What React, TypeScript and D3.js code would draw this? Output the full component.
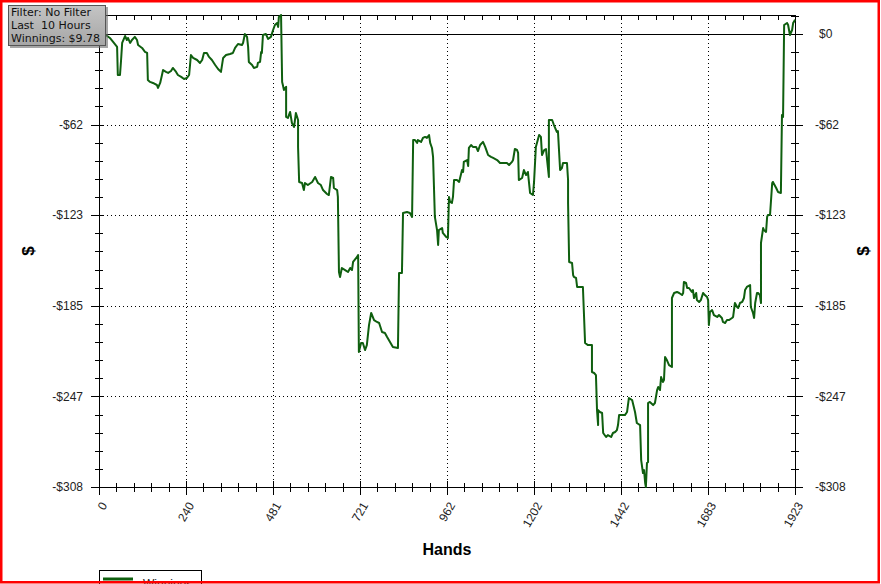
import React, { useEffect, useRef } from 'react';
import * as d3 from 'd3';

// cumulative winnings: [hand, dollars]
const sessionStart: [number, number][] = [
    [0, 0], [19, -0.7], [30, -2.7], [39, -5.4], [50, -8.8], [52, -27.9], [58, -27.9], [61, -17.7], [64, -6.1],
    [72, -1.4], [77, -4.1], [80, -2.7], [86, -6.1], [91, -4.1], [99, -2.0], [105, -4.1], [108, -7.5], [119, -9.5],
    [127, -12.2], [133, -12.9], [135, -31.3], [141, -32.6], [149, -33.3], [160, -34.7], [163, -36.7], [169, -33.3],
    [174, -27.9], [177, -24.5], [185, -25.8], [191, -26.5], [199, -25.2], [204, -23.1], [213, -25.8], [218, -27.9],
    [227, -29.2], [235, -30.6], [243, -29.9], [249, -27.9], [254, -14.3], [260, -16.3], [271, -17.7], [279, -19.7],
    [285, -17.7], [290, -12.9], [298, -12.9], [304, -15.6], [312, -17.7], [321, -21.1], [329, -23.8], [337, -25.8],
    [343, -16.3], [351, -14.3], [362, -13.6], [370, -12.9], [376, -9.5], [384, -6.8], [395, -7.5], [398, -6.1],
    [403, 0], [409, -2.0], [412, -8.8], [414, -19.0], [423, -21.1], [428, -23.1], [437, -22.4], [439, -19.7],
    [445, -19.0], [448, -12.2], [450, -12.9], [453, -0.7], [461, 0], [467, -3.4], [475, -2.0], [481, 2.7],
    [486, 6.1], [492, 7.5], [495, 4.8], [497, 11.6], [503, 12.9],
];

const firstSlide: [number, number][] = [
    [506, -32.6], [508, -34.7], [511, -38.1], [517, -36.0], [517, -56.4], [522, -57.1], [528, -53.0], [533, -60.5],
    [539, -63.2], [544, -53.7], [550, -58.5], [550, -76.8], [553, -100.6], [561, -101.3], [566, -106.1], [569, -101.3],
    [577, -102.7], [589, -100.6], [597, -97.2], [605, -101.3], [613, -102.7], [619, -106.1], [630, -108.8],
    [635, -109.5], [641, -97.2], [647, -97.9], [649, -104.7], [658, -106.1], [660, -110.8], [663, -161.8],
    [666, -165.2], [671, -159.1], [680, -160.5], [688, -161.8], [694, -159.1], [699, -160.5], [702, -155.0],
    [713, -151.6], [716, -150.3], [718, -216.2], [724, -210.1], [729, -210.1], [735, -214.9], [740, -211.5],
    [746, -197.9], [752, -189.7], [760, -194.5], [768, -195.8], [774, -196.5], [782, -202.6], [790, -203.3],
    [796, -206.0], [804, -209.4], [812, -212.8], [826, -213.5], [829, -162.5], [837, -162.5], [840, -121.7],
    [851, -121.0], [859, -121.7], [865, -124.4], [868, -72.1], [873, -72.1], [879, -74.1], [881, -72.1],
    [890, -73.4], [895, -70.7], [901, -70.0], [906, -70.7], [912, -68.7], [915, -74.1], [920, -77.5], [923, -83.6],
    [928, -124.4], [934, -133.3], [937, -143.5], [939, -133.3], [948, -131.9], [950, -135.3], [959, -138.0],
    [964, -138.7], [967, -110.8],
];

const middleRun: [number, number][] = [
    [970, -114.2], [975, -114.9], [978, -110.8], [981, -99.3], [989, -99.3], [995, -100.6], [1003, -92.5],
    [1006, -93.8], [1008, -87.0], [1017, -85.7], [1020, -89.8], [1022, -77.5], [1028, -75.5], [1033, -76.8],
    [1042, -76.8], [1047, -79.6], [1053, -75.5], [1061, -73.4], [1067, -76.8], [1072, -80.2], [1075, -82.3],
    [1083, -83.6], [1089, -84.3], [1100, -85.7], [1108, -87.7], [1116, -87.7], [1127, -87.7], [1133, -89.1],
    [1141, -87.0], [1144, -85.7], [1149, -78.2], [1155, -78.9], [1158, -80.9], [1160, -99.3], [1169, -97.9],
    [1174, -92.5], [1180, -95.9], [1185, -93.8], [1191, -108.1], [1199, -109.5], [1202, -100.6], [1207, -76.8],
    [1210, -74.1], [1216, -68.7], [1221, -70.0], [1224, -82.3], [1230, -78.9], [1235, -78.2], [1238, -85.7],
    [1243, -97.2], [1243, -58.5], [1252, -58.5], [1257, -61.9], [1265, -66.6], [1268, -66.0], [1274, -92.5],
    [1279, -91.1], [1282, -87.7], [1293, -87.7], [1296, -99.3], [1296, -114.9], [1299, -155.0],
];

const bottomOut: [number, number][] = [
    [1307, -155.7], [1310, -163.9], [1312, -165.2], [1318, -165.9], [1321, -172.0], [1337, -172.0], [1343, -210.1],
    [1351, -211.5], [1362, -211.5], [1362, -229.8], [1368, -230.5], [1373, -231.9], [1376, -255.7], [1379, -265.9],
    [1379, -255.7], [1384, -257.0], [1390, -257.7], [1393, -271.3], [1401, -274.0], [1406, -272.7], [1415, -274.0],
    [1420, -271.3], [1426, -270.6], [1431, -269.3], [1434, -265.9], [1437, -259.1], [1453, -259.1], [1459, -257.0],
    [1464, -247.5], [1473, -248.9], [1475, -250.9], [1481, -257.0], [1486, -264.5], [1495, -265.9], [1498, -289.7],
    [1503, -298.5], [1506, -296.5], [1509, -305.3], [1511, -308.0], [1514, -291.7], [1517, -291.0], [1517, -250.9],
    [1522, -250.2], [1531, -252.3], [1536, -250.9], [1542, -242.1], [1545, -240.0], [1550, -242.1], [1553, -233.2],
    [1558, -236.6], [1561, -235.3], [1564, -219.6], [1569, -221.7], [1575, -225.1], [1583, -226.4], [1583, -179.5],
];

const comeback: [number, number][] = [
    [1589, -176.1], [1597, -175.4], [1603, -176.1], [1611, -177.5], [1614, -176.1], [1616, -168.6], [1622, -169.3],
    [1625, -172.7], [1630, -172.7], [1638, -175.4], [1641, -174.1], [1644, -179.5], [1650, -176.1], [1652, -180.9],
    [1658, -182.2], [1663, -180.9], [1669, -176.1], [1674, -177.5], [1680, -178.8], [1683, -180.9], [1685, -197.9],
    [1688, -189.0], [1694, -187.7], [1699, -191.1], [1708, -192.4], [1713, -191.1], [1721, -193.1], [1724, -195.8],
    [1730, -196.5], [1735, -194.5], [1741, -194.5], [1749, -193.1], [1752, -192.4], [1757, -182.9], [1763, -185.6],
    [1766, -186.3], [1771, -182.9], [1777, -182.2], [1782, -179.5], [1785, -174.1], [1790, -172.0], [1799, -170.7],
    [1801, -185.6], [1807, -189.7], [1810, -193.1], [1813, -182.9], [1818, -176.1], [1821, -176.1], [1826, -177.5],
    [1829, -182.9], [1829, -142.1], [1835, -131.9], [1837, -133.3], [1843, -134.6], [1846, -124.4], [1848, -123.1],
    [1854, -123.1], [1860, -101.3], [1862, -100.6], [1871, -104.7], [1876, -107.4], [1884, -108.1], [1887, -55.1],
    [1890, -56.4], [1893, 6.1], [1901, 7.5], [1904, 6.1], [1909, -0.7], [1915, 2.7], [1918, 7.5], [1920, 8.2],
    [1923, 9.78],
];

const xTickLabels = ['0', '240', '481', '721', '962', '1202', '1442', '1683', '1923'];
const yTickLabels = ['$0', '-$62', '-$123', '-$185', '-$247', '-$308'];
const infoLines = ['Filter: No Filter', 'Last  10 Hours', 'Winnings: $9.78'];

const totalHands = 1923;
const minWin = -308;
const maxWin = 12.9;

const App = () => {
    const svgRef = useRef<SVGSVGElement>(null);

    useEffect(() => {
        const svg = d3.select(svgRef.current);
        const width = 881;
        const height = 584;
        const left = 99, right = 795, top = 15, bottom = 487;
        const green = '#0f5f0f';
        const font = '"Liberation Sans", Arial, sans-serif';

        svg.attr('width', width).attr('height', height).selectAll('*').remove();
        svg.append('rect').attr('width', width).attr('height', height).attr('fill', '#fff');

        const data = [...sessionStart, ...firstSlide, ...middleRun, ...bottomOut, ...comeback];

        const x = d3.scaleLinear().domain([0, totalHands]).range([left, right]);
        const y = d3.scaleLinear().domain([minWin, maxWin]).range([bottom, top]);

        const xMajor = xTickLabels.map((_, i) => (totalHands * i) / 8);
        const xMinor = d3.range(41).map(i => (totalHands * i) / 40);
        const yMajor = yTickLabels.map((_, i) => (minWin * i) / 5);
        const yMinor = d3.range(-25, 2).map(i => (-minWin * i) / 25).filter(v => v <= maxWin);

        // dotted grid
        const grid = svg.append('g').attr('stroke', '#000').attr('stroke-dasharray', '1,3');
        grid.selectAll('line.vx')
            .data(xMajor.slice(1, -1))
            .enter()
            .append('line')
            .attr('x1', d => Math.round(x(d)) + 0.5)
            .attr('x2', d => Math.round(x(d)) + 0.5)
            .attr('y1', top)
            .attr('y2', bottom);
        grid.selectAll('line.hy')
            .data(yMajor.slice(1, -1))
            .enter()
            .append('line')
            .attr('x1', left)
            .attr('x2', right)
            .attr('y1', d => Math.round(y(d)) + 0.5)
            .attr('y2', d => Math.round(y(d)) + 0.5);

        // zero line
        svg.append('line')
            .attr('x1', left).attr('x2', right + 8)
            .attr('y1', Math.round(y(0)) + 0.5).attr('y2', Math.round(y(0)) + 0.5)
            .attr('stroke', '#000');

        // frame
        const axes = svg.append('g').attr('stroke', '#000').attr('stroke-width', 1);
        axes.append('line').attr('x1', left + 0.5).attr('x2', left + 0.5).attr('y1', top).attr('y2', bottom);
        axes.append('line').attr('x1', right + 0.5).attr('x2', right + 0.5).attr('y1', top).attr('y2', bottom);
        axes.append('line').attr('x1', left).attr('x2', right + 1).attr('y1', top + 0.5).attr('y2', top + 0.5);
        axes.append('line').attr('x1', left).attr('x2', right + 1).attr('y1', bottom + 0.5).attr('y2', bottom + 0.5);

        const isMajorX = (i: number) => i % 5 === 0;
        xMinor.forEach((v, i) => {
            const px = Math.round(x(v)) + 0.5;
            const major = isMajorX(i);
            axes.append('line').attr('x1', px).attr('x2', px)
                .attr('y1', bottom - (major ? 6 : 4)).attr('y2', bottom + (major ? 8 : 5));
            axes.append('line').attr('x1', px).attr('x2', px).attr('y1', top).attr('y2', top + 5);
        });

        yMinor.forEach(v => {
            const py = Math.round(y(v)) + 0.5;
            const major = Math.abs(Math.round(v / (minWin / 5)) * (minWin / 5) - v) < 0.01;
            axes.append('line').attr('y1', py).attr('y2', py)
                .attr('x1', left - (major ? 8 : 4)).attr('x2', left + 4);
            axes.append('line').attr('y1', py).attr('y2', py)
                .attr('x1', right - (major ? 8 : 4)).attr('x2', right + (major ? 8 : 4));
        });

        // winnings line
        const line = d3.line<[number, number]>()
            .x(d => x(d[0]))
            .y(d => y(d[1]));
        svg.append('path')
            .datum(data)
            .attr('d', line)
            .attr('fill', 'none')
            .attr('stroke', green)
            .attr('stroke-width', 2)
            .attr('stroke-linejoin', 'round');

        // tick labels (left $0 sits under the info box, so it is skipped)
        svg.selectAll('.ylabL')
            .data(yMajor.slice(1))
            .enter()
            .append('text')
            .attr('x', left - 16)
            .attr('y', d => y(d))
            .attr('dy', '0.35em')
            .attr('text-anchor', 'end')
            .attr('font-family', font)
            .attr('font-size', 12)
            .attr('fill', '#222')
            .text((_, i) => yTickLabels[i + 1]);
        svg.selectAll('.ylabR')
            .data(yMajor)
            .enter()
            .append('text')
            .attr('x', (_, i) => right + (i === 0 ? 24 : 20))
            .attr('y', d => y(d))
            .attr('dy', '0.35em')
            .attr('font-family', font)
            .attr('font-size', 12)
            .attr('fill', '#222')
            .text((_, i) => yTickLabels[i]);
        svg.selectAll('.xlab')
            .data(xMajor)
            .enter()
            .append('text')
            .attr('transform', d => `translate(${x(d) + 5}, ${bottom + 16}) rotate(-60)`)
            .attr('dy', '0.35em')
            .attr('text-anchor', 'end')
            .attr('font-family', font)
            .attr('font-size', 12)
            .attr('fill', '#222')
            .text((_, i) => xTickLabels[i]);

        // axis titles
        svg.append('text')
            .attr('x', (left + right) / 2).attr('y', 555)
            .attr('text-anchor', 'middle')
            .attr('font-family', font).attr('font-size', 16).attr('font-weight', 'bold')
            .text('Hands');
        [28, 863].forEach(cx => {
            svg.append('text')
                .attr('transform', `translate(${cx}, 251) rotate(-90)`)
                .attr('text-anchor', 'middle')
                .attr('dy', '0.35em')
                .attr('font-family', font).attr('font-size', 17).attr('font-weight', 'bold')
                .text('$');
        });

        // legend
        svg.append('rect')
            .attr('x', left + 0.5).attr('y', 570.5).attr('width', 102).attr('height', 24)
            .attr('fill', '#fff').attr('stroke', '#000');
        svg.append('line')
            .attr('x1', left + 4).attr('x2', left + 34).attr('y1', 579).attr('y2', 579)
            .attr('stroke', green).attr('stroke-width', 3);
        svg.append('text')
            .attr('x', left + 44).attr('y', 588)
            .attr('font-family', font).attr('font-size', 12).attr('fill', '#222')
            .text('Winnings');

        // info box
        const grad = svg.append('defs').append('linearGradient')
            .attr('id', 'infoGrad').attr('x1', 0).attr('x2', 0).attr('y1', 0).attr('y2', 1);
        grad.append('stop').attr('offset', '0%').attr('stop-color', '#c4c4c4');
        grad.append('stop').attr('offset', '100%').attr('stop-color', '#a6a6a6');
        svg.append('rect')
            .attr('x', 10).attr('y', 7).attr('width', 98).attr('height', 41)
            .attr('fill', '#6a6a6a').attr('opacity', 0.6);
        svg.append('rect')
            .attr('x', 8.5).attr('y', 5.5).attr('width', 97).attr('height', 40)
            .attr('fill', 'url(#infoGrad)').attr('stroke', '#555');
        svg.selectAll('.info')
            .data(infoLines)
            .enter()
            .append('text')
            .attr('x', 11)
            .attr('y', (_, i) => 16 + i * 13)
            .attr('font-family', '"DejaVu Sans", Verdana, sans-serif')
            .attr('font-size', 11)
            .attr('fill', '#111')
            .attr('xml:space', 'preserve')
            .style('white-space', 'pre')
            .text(d => d);

        // outer red border
        svg.append('rect')
            .attr('x', 1.25).attr('y', 1.25).attr('width', 877.5).attr('height', 581)
            .attr('fill', 'none').attr('stroke', '#f00').attr('stroke-width', 2.5);
    }, []);

    return <svg ref={svgRef} style={{ position: 'absolute', left: 0, top: 0 }}></svg>;
};

export default App;
